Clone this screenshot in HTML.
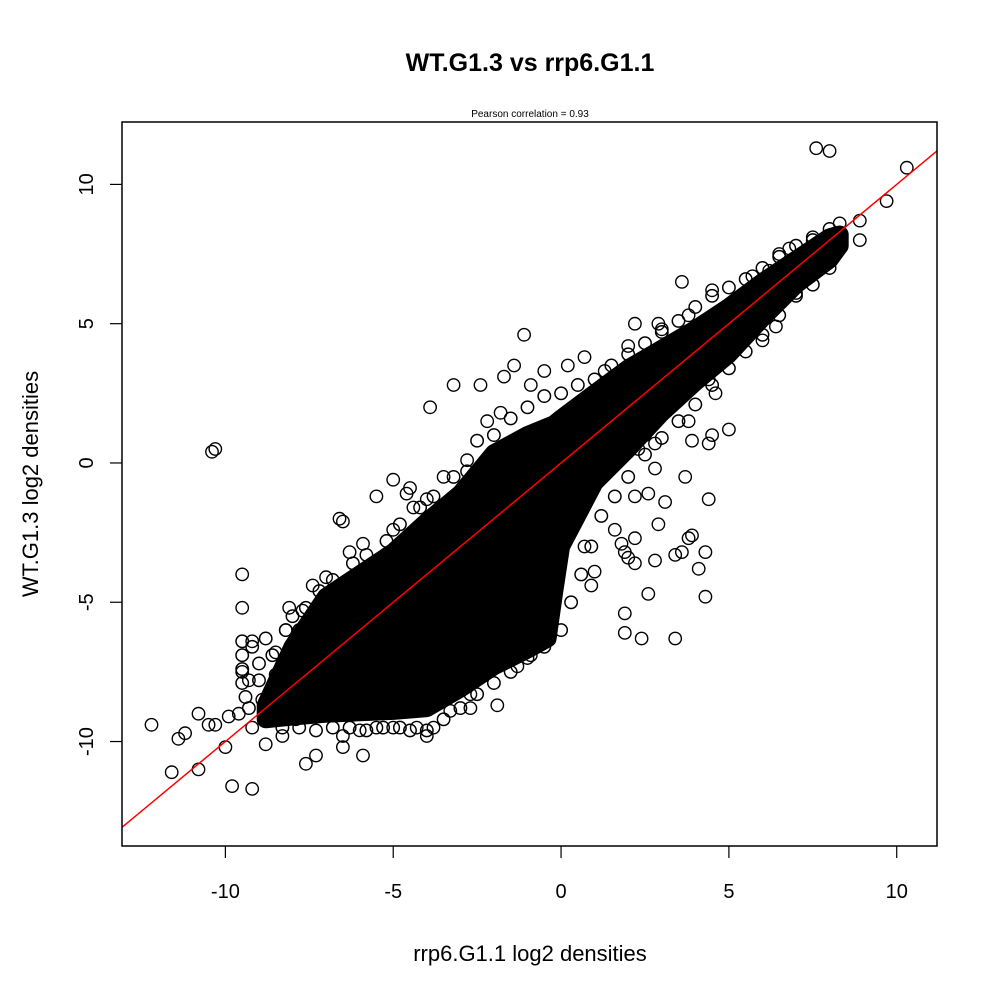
<!DOCTYPE html>
<html><head><meta charset="utf-8"><style>
html,body{margin:0;padding:0;background:#fff;}
svg{display:block;font-family:"Liberation Sans",Arial,sans-serif;}
</style></head><body>
<svg id="chart" width="1000" height="1000" viewBox="0 0 1000 1000">
<rect width="1000" height="1000" fill="#fff"/>
<text x="530" y="71" text-anchor="middle" font-size="25" font-weight="bold">WT.G1.3 vs rrp6.G1.1</text>
<text x="530" y="117" text-anchor="middle" font-size="10">Pearson correlation =  0.93</text>
<g id="marks"></g>
<rect x="122" y="122" width="815" height="724" fill="none" stroke="#000" stroke-width="1.5"/>
<g id="axes"></g>
<text x="530" y="961" text-anchor="middle" font-size="22">rrp6.G1.1 log2 densities</text>
<text transform="translate(38,484) rotate(-90)" text-anchor="middle" font-size="22">WT.G1.3 log2 densities</text>
</svg>
<script>
const xTicks = [-10, -5, 0, 5, 10];
const yTicks = [-10, -5, 0, 5, 10];
const bandX  = [-8.8,-8,-7,-6,-5,-4,-3,-2,-1,-0.4,-0.2,0,1,2,3,4,5,6,7,8,8.3];
const bandHi = [-8.7,-6.6,-4.8,-4.0,-3.2,-2.1,-1.1,0.35,1.0,1.3,1.4,1.6,2.5,3.4,4.1,4.8,5.6,6.5,7.3,8.1,8.2];
const bandLo = [-9.2,-9.1,-9.0,-8.95,-8.9,-8.8,-8.1,-7.3,-6.7,-6.3,-4.6,-3.0,-0.7,0.5,1.8,2.9,3.9,5.2,6.4,7.3,7.8];
const outX = [-10.4,-10.3,-3.9,-9.5,-9.5,-6.6,-6.5,-5.5,-5,-4.6,-4.5,-3.2,-2.4,-1.7,-1.1,-1.4,-0.9,-0.5,0.2,0.7,1.3,2.2,2.0,3.6,4.5,7.6,8.0,10.3,9.7,8.9,8.9,8.3,7.5,6.8,6.5,6.2,5.7,5.3,3.8,3.0,2.9,
 7.9,7.0,6.4,5.0,6.0,4.4,4.6,4.5,4.4,3.9,3.8,5.0,2.8,2.5,2.3,2.8,3.7,2.6,3.1,4.4,2.2,2.9,3.8,3.9,3.4,4.3,3.6,2.2,1.8,1.6,1.9,2.0,2.2,2.8,4.1,2.6,4.3,1.9,1.9,2.4,3.4,1.0,0.9,0.7,0.0,
 -0.9,-0.8,-1.0,-1.9,-1.3,-1.9,-2.7,-2.7,-3.3,-3.8,-4.3,-5.0,-5.5,-6.0,-6.5,-6.5,-5.9,-4.0,-7.3,-7.6,-8.3,-7.9,-8.8,-9.2,-9.8,-10.0,-10.5,-10.8,-10.8,-11.2,-11.4,-11.6,-12.2,-9.9,-10.3,-9.6,-9.2,-8.9,-9.3,-9.5,-9.2,-8.5,-8.2,-8.1,-7.7,-7.4,-7.0,-6.3,-5.9,-5.0,-4.4,-4.0,-3.5,-2.8,-2.2,-1.8];
const outY = [0.4,0.5,2.0,-4.0,-5.2,-2.0,-2.1,-1.2,-0.6,-1.1,-0.9,2.8,2.8,3.1,4.6,3.5,2.8,3.3,3.5,3.8,3.3,5.0,4.2,6.5,6.2,11.3,11.2,10.6,9.4,8.7,8.0,8.6,8.1,7.7,7.5,6.9,6.7,5.9,5.3,4.8,5.0,
 7.2,6.1,4.9,4.0,4.4,3.0,2.5,1.0,0.7,0.8,1.5,1.2,0.7,1.0,0.5,-0.2,-0.5,-1.1,-1.4,-1.3,-1.2,-2.2,-2.7,-2.6,-3.3,-3.2,-3.2,-2.7,-2.9,-2.4,-3.2,-3.4,-3.6,-3.5,-3.8,-4.7,-4.8,-5.4,-6.1,-6.3,-6.3,-3.9,-4.4,-3.0,-2.8,
 -6.9,-6.4,-5.8,-7.2,-7.3,-8.7,-8.3,-8.8,-8.9,-9.5,-9.5,-9.5,-9.5,-9.6,-9.8,-10.2,-10.5,-9.8,-10.5,-10.8,-9.8,-9.2,-10.1,-11.7,-11.6,-10.2,-9.4,-9.0,-11.0,-9.7,-9.9,-11.1,-9.4,-9.1,-9.4,-9.0,-9.5,-8.5,-7.8,-7.5,-6.4,-6.8,-6.0,-5.2,-5.3,-4.4,-4.1,-3.2,-2.9,-2.4,-1.6,-1.3,-0.5,0.1,1.5,1.8];
const haloX = [-9.5,-9.5,-9.5,-9.5,-9.4,-9.3,-9.2,-9.0,-9.0,-8.8,-8.6,-8.5,-8.2,-8.0,-7.8,-7.6,-7.3,-7.2,-6.8,-6.5,-6.2,-5.8,-5.5,-5.2,-4.8,-4.5,-4.2,-3.8,-3.5,-3.2,-2.8,-2.5,-2.0,-1.5,-1.0,-0.5,0,0.5,1.0,1.5,2.0,2.5,3.0,3.5,4.0,4.5,5.0,5.5,6.0,6.5,7.0,7.5,8.0,
 -8.3,-7.8,-7.3,-6.8,-6.3,-5.8,-5.3,-4.8,-4.5,-4.0,-3.5,-3.0,-2.5,-2.0,-1.5,-1.0,-0.5,0,0.3,0.6,0.9,1.2,1.6,2.0,2.5,3.0,3.5,4.0,4.5,5.0,5.5,6.0,6.5,7.0,7.5,8.0];
const haloY = [-6.4,-6.9,-7.4,-7.9,-8.4,-8.8,-6.6,-7.2,-7.8,-6.3,-6.9,-7.6,-6.0,-5.5,-6.0,-5.2,-5.4,-4.6,-4.2,-4.8,-3.6,-3.3,-3.8,-2.8,-2.2,-2.7,-1.6,-1.2,-1.7,-0.5,-0.3,0.8,1.0,1.6,2.0,2.4,2.5,2.8,3.0,3.5,3.9,4.3,4.7,5.1,5.6,6.0,6.3,6.6,7.0,7.4,7.8,8.0,8.4,
 -9.5,-9.5,-9.6,-9.5,-9.5,-9.6,-9.5,-9.5,-9.6,-9.6,-9.2,-8.8,-8.3,-7.9,-7.5,-7.0,-6.6,-6.0,-5.0,-4.0,-3.0,-1.9,-1.2,-0.5,0.3,0.9,1.5,2.1,2.8,3.4,4.0,4.6,5.3,6.0,6.4,7.0];

const X0=122,X1=937,Y0=846,Y1=122;
const xmin=-13.08,xmax=11.2,ymin=-13.75,ymax=12.24;
function sx(v){return X0+(v-xmin)/(xmax-xmin)*(X1-X0);}
function sy(v){return Y0-(v-ymin)/(ymax-ymin)*(Y0-Y1);}
const NS="http://www.w3.org/2000/svg";
const marks=document.getElementById('marks');
const axes=document.getElementById('axes');

let pts=[];
for(let i=0;i<bandX.length;i++)pts.push(sx(bandX[i]).toFixed(1)+","+sy(bandHi[i]).toFixed(1));
for(let i=bandX.length-1;i>=0;i--)pts.push(sx(bandX[i]).toFixed(1)+","+sy(bandLo[i]).toFixed(1));
const poly=document.createElementNS(NS,'polygon');
poly.setAttribute('points',pts.join(' '));
poly.setAttribute('fill','#000');
poly.setAttribute('stroke','#000');
poly.setAttribute('stroke-width','18');
poly.setAttribute('stroke-linejoin','round');


marks.appendChild(poly);

function addPoint(xv,yv,name,sw){
  const c=document.createElementNS(NS,'circle');
  c.setAttribute('cx',sx(xv).toFixed(1));
  c.setAttribute('cy',sy(yv).toFixed(1));
  c.setAttribute('r','6.2');
  c.setAttribute('fill','none');
  c.setAttribute('stroke','#000');
  c.setAttribute('stroke-width',sw);
  
  
  marks.appendChild(c);
}
for(let i=0;i<haloX.length;i++) addPoint(haloX[i],haloY[i],'halo-point','1.5');
for(let i=0;i<outX.length;i++) addPoint(outX[i],outY[i],'data-point','1.4');

const fit=document.createElementNS(NS,'line');
fit.setAttribute('x1',sx(xmin));fit.setAttribute('y1',sy(xmin));
fit.setAttribute('x2',sx(xmax));fit.setAttribute('y2',sy(xmax));
fit.setAttribute('stroke','#ff0000');fit.setAttribute('stroke-width','1.5');


marks.appendChild(fit);

xTicks.forEach(t=>{
  const l=document.createElementNS(NS,'line');
  l.setAttribute('x1',sx(t));l.setAttribute('x2',sx(t));l.setAttribute('y1',846);l.setAttribute('y2',858);
  l.setAttribute('stroke','#000');l.setAttribute('stroke-width','1.2');
  
  
  axes.appendChild(l);
  const tx=document.createElementNS(NS,'text');
  tx.setAttribute('x',sx(t));tx.setAttribute('y',898);tx.setAttribute('text-anchor','middle');tx.setAttribute('font-size','20');
  tx.textContent=t;
  
  
  axes.appendChild(tx);
});
yTicks.forEach(t=>{
  const l=document.createElementNS(NS,'line');
  l.setAttribute('x1',110);l.setAttribute('x2',122);l.setAttribute('y1',sy(t));l.setAttribute('y2',sy(t));
  l.setAttribute('stroke','#000');l.setAttribute('stroke-width','1.2');
  
  
  axes.appendChild(l);
  const tx=document.createElementNS(NS,'text');
  tx.setAttribute('transform','translate(93,'+sy(t)+') rotate(-90)');
  tx.setAttribute('text-anchor','middle');tx.setAttribute('font-size','20');
  tx.textContent=t;
  
  
  axes.appendChild(tx);
});
</script>
</body></html>
